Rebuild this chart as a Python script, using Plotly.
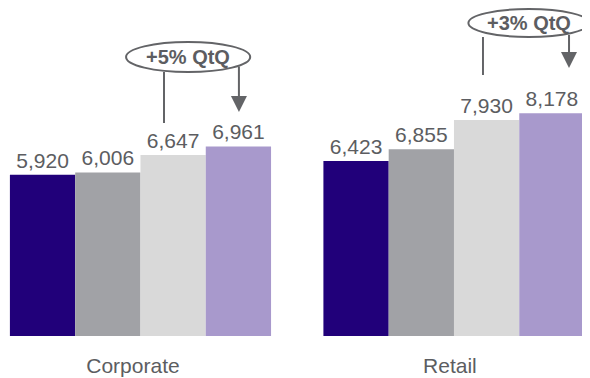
import plotly.graph_objects as go

# data
categories = ["Corporate", "Retail"]
periods = ["Q1", "Q2", "Q3", "Q4"]
corporate = [5920, 6006, 6647, 6961]
retail = [6423, 6855, 7930, 8178]
growth_labels = ["+5% QtQ", "+3% QtQ"]

colors = ["#21007a", "#a1a2a6", "#d9d9d9", "#a899cc"]
text_grey = "#5c5d61"
line_grey = "#636467"
font_family = "Arial, Liberation Sans, sans-serif"

group_x = [0, 1]

fig = go.Figure()
for i, name in enumerate(periods):
    vals = [corporate[i], retail[i]]
    fig.add_trace(go.Bar(
        x=group_x, y=vals, name=name,
        marker=dict(color=colors[i], line=dict(width=0)),
        text=[f"{v:,}" for v in vals],
        textposition="outside",
        textfont=dict(size=21, color=text_grey, family=font_family),
        cliponaxis=False,
    ))

# callout geometry (data units): oval centre/half sizes, left stem, arrow
callouts = [
    dict(cx=0.152, rx=0.198, cy=10242, ry=551,
         stem_x=0.075, stem_y=(9691, 7819),
         arr_x=0.314, arr_y=(9948, 8223)),
    dict(cx=1.239, rx=0.193, cy=11490, ry=514,
         stem_x=1.0925, stem_y=(10976, 9581),
         arr_x=1.367, arr_y=(11101, 9838)),
]

shapes = []
annotations = []
for c in callouts:
    shapes.append(dict(type="line", xref="x", yref="y",
                       x0=c["stem_x"], x1=c["stem_x"],
                       y0=c["stem_y"][0], y1=c["stem_y"][1],
                       line=dict(color=line_grey, width=2)))
    annotations.append(dict(x=c["arr_x"], y=c["arr_y"][1],
                            ax=c["arr_x"], ay=c["arr_y"][0],
                            xref="x", yref="y", axref="x", ayref="y",
                            text="", showarrow=True, arrowhead=2,
                            arrowsize=1.6, arrowwidth=2,
                            arrowcolor=line_grey))
for c, label in zip(callouts, growth_labels):
    shapes.append(dict(type="circle", xref="x", yref="y",
                       x0=c["cx"] - c["rx"], x1=c["cx"] + c["rx"],
                       y0=c["cy"] - c["ry"], y1=c["cy"] + c["ry"],
                       line=dict(color=line_grey, width=2),
                       fillcolor="white", layer="above"))
    annotations.append(dict(x=c["cx"], y=c["cy"], xref="x", yref="y",
                            text=f"<b>{label}</b>", showarrow=False,
                            font=dict(size=20, color=text_grey,
                                      family=font_family)))

# page body has an 8px margin, so the figure is sized to fit the window
fig.update_layout(
    width=582, height=370,
    margin=dict(l=0, r=0, t=0, b=42),
    barmode="group", bargap=0.167, bargroupgap=0,
    showlegend=False,
    paper_bgcolor="white", plot_bgcolor="white",
    shapes=shapes, annotations=annotations,
    xaxis=dict(range=[-0.4226, 1.4339], tickvals=[-0.024, 0.987],
               ticktext=categories, ticks="", showgrid=False,
               zeroline=False, showline=False, ticklabelstandoff=15,
               tickfont=dict(size=21, color=text_grey, family=font_family)),
    yaxis=dict(range=[0, 12041], visible=False, showgrid=False,
               zeroline=False),
)

fig.write_html("out.html")
